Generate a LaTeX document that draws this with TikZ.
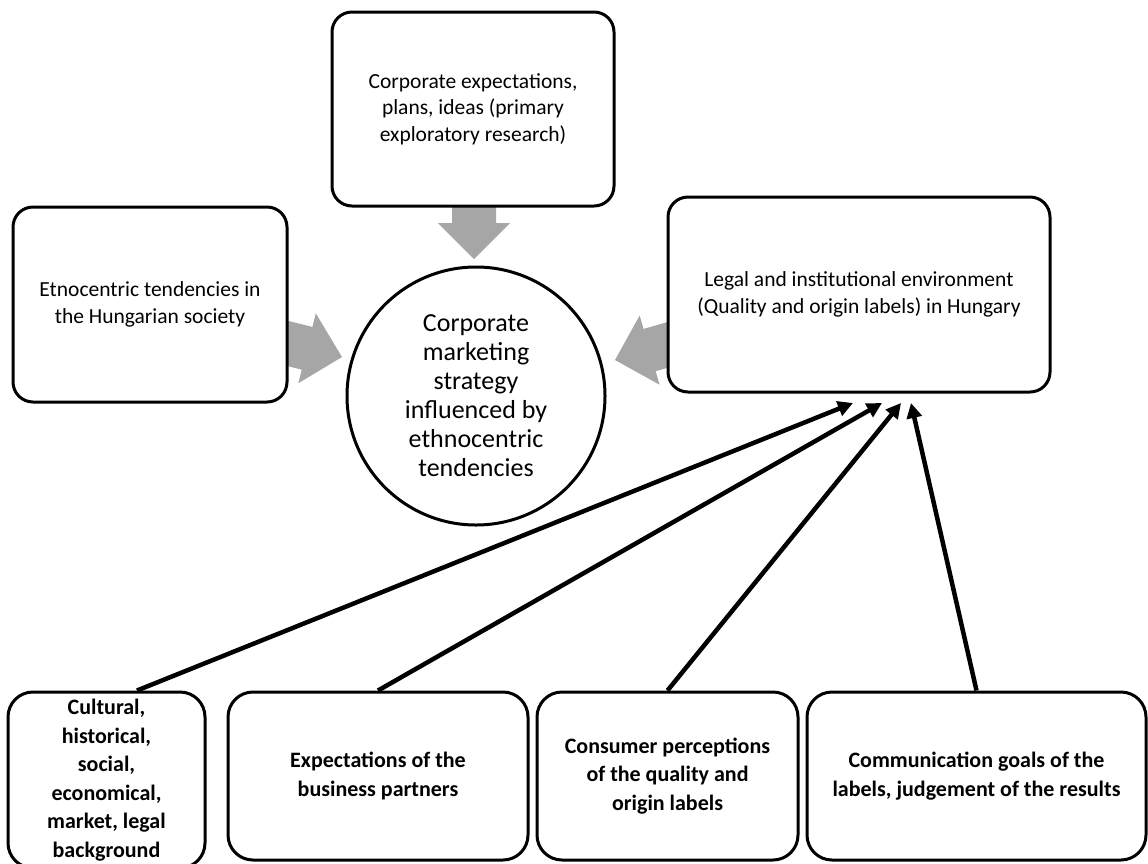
\documentclass[tikz,border=0pt]{standalone}
\usepackage{fontspec}
\setmainfont{Carlito}
\usetikzlibrary{arrows.meta}
\definecolor{arrowgray}{HTML}{A6A6A6}
% broad grey block arrow: tip at #1, pointing at angle #2, shaft length #3
\newcommand\blockarrow[3]{%
  \begin{scope}[shift={(#1)}, rotate=#2]
    \fill[arrowgray] (0,0) -- (-36,-36) -- (-36,-22) -- (-#3,-22)
      -- (-#3,22) -- (-36,22) -- (-36,36) -- cycle;
  \end{scope}}
\begin{document}
\begin{tikzpicture}[x=1pt,y=-1pt,
  box/.style={draw=black, line width=3pt, rounded corners=20pt, fill=white,
    align=center, inner sep=0pt, font=\fontsize{21.5}{26.5}\selectfont},
  lowbox/.style={box, rounded corners=25pt,
    font=\bfseries\fontsize{22}{28.5}\selectfont},
  hub/.style={draw=black, line width=3pt, circle, fill=white, align=center,
    minimum size=258pt, inner sep=0pt, font=\fontsize{26}{29}\selectfont},
  link/.style={line width=4.5pt, -{Triangle[length=15pt,width=15pt]}},
]
\useasboundingbox (0,0) rectangle (1148,863);

% grey arrows into the central circle (drawn first, boxes cover their tails)
\blockarrow{474,259}{-90}{60}
\blockarrow{342,357}{-14}{75}
\blockarrow{615,360}{196}{75}

% upper boxes and the central circle
\node[box, minimum width=282pt, minimum height=194pt] (plans) at (473,109)
  {Corporate expectations,\\plans, ideas (primary\\exploratory research)};
\node[box, minimum width=274pt, minimum height=195pt] (ethno) at (150,304.5)
  {Etnocentric tendencies in\\the Hungarian society};
\node[box, minimum width=382pt, minimum height=195pt] (legal) at (859,294.5)
  {Legal and institutional environment\\(Quality and origin labels) in Hungary};
\node[hub] (strategy) at (476,396)
  {Corporate\\marketing\\strategy\\influenced by\\ethnocentric\\tendencies};

% lower boxes
\node[lowbox, minimum width=197pt, minimum height=176pt] (background) at (106.5,780)
  {Cultural,\\historical,\\social,\\economical,\\market, legal\\background};
\node[lowbox, minimum width=300pt, minimum height=168pt] (partners) at (378,776)
  {Expectations of the\\business partners};
\node[lowbox, minimum width=261pt, minimum height=168pt] (consumers) at (667.5,776)
  {Consumer perceptions\\of the quality and\\origin labels};
\node[lowbox, minimum width=339pt, minimum height=168pt] (goals) at (976.5,776)
  {Communication goals of the\\labels, judgement of the results};

% arrow ends just below the legal box
\coordinate (in1) at (853,403);
\coordinate (in2) at (882,403);
\coordinate (in3) at (901,403);
\coordinate (in4) at (911,403);

\draw[link] ([xshift=30.5pt]background.north) -- (in1);
\draw[link] (partners.north) -- (in2);
\draw[link] (consumers.north) -- (in3);
\draw[link] (goals.north) -- (in4);
\end{tikzpicture}
\end{document}
